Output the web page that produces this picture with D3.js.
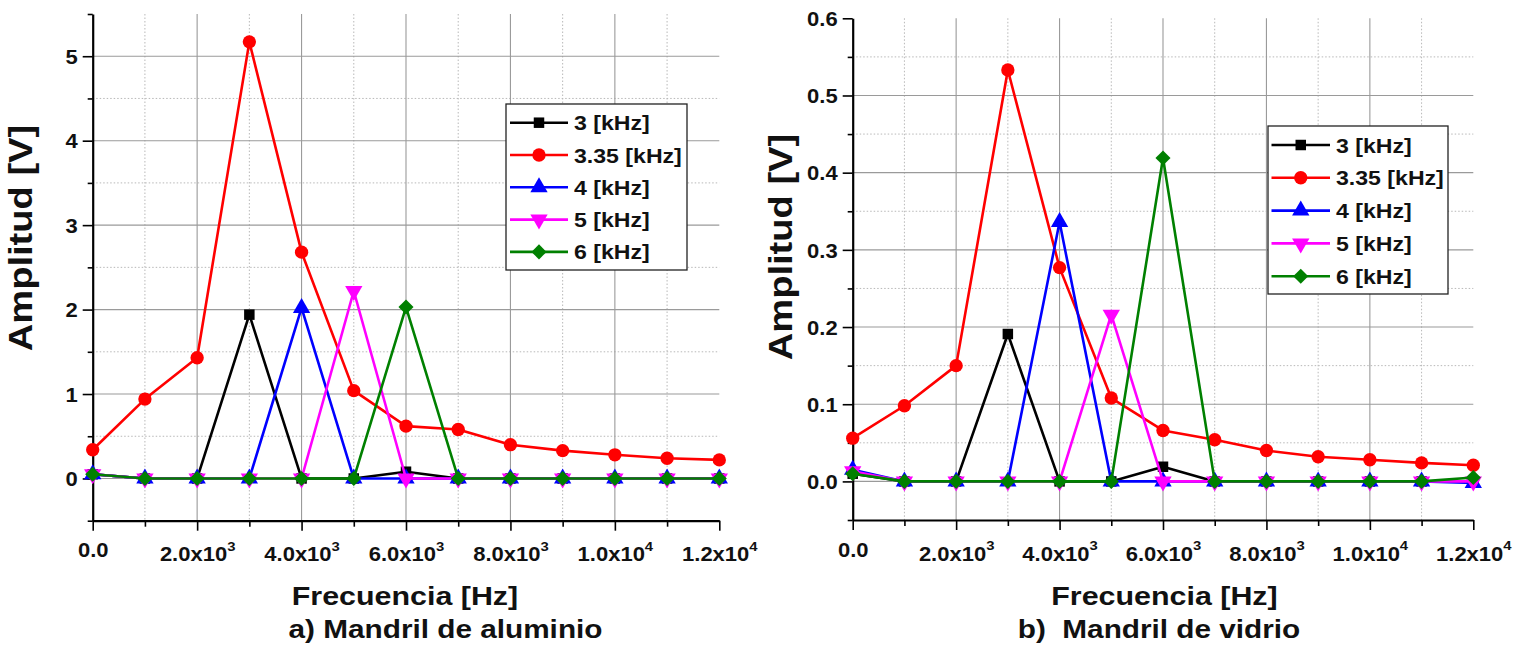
<!DOCTYPE html>
<html>
<head>
<meta charset="utf-8">
<script src="https://cdn.jsdelivr.net/npm/d3@7"></script>
<style>
  html, body { margin: 0; padding: 0; background: #fff; }
  text { font-family: "Liberation Sans", Arial, sans-serif; font-weight: bold; fill: #111; }
</style>
</head>
<body>
<svg id="chart" width="1527" height="645"></svg>
<script>
// ---------- DATA ----------
const freqs = [0, 1000, 2000, 3000, 4000, 5000, 6000, 7000, 8000, 9000, 10000, 11000, 12000];
const seriesNames = ["3 [kHz]", "3.35 [kHz]", "4 [kHz]", "5 [kHz]", "6 [kHz]"];

// a) Mandril de aluminio
const al_3   = [0.05, 0, 0, 1.94, 0, 0, 0.08, 0, 0, 0, 0, 0, 0];
const al_335 = [0.34, 0.94, 1.43, 5.17, 2.68, 1.04, 0.62, 0.58, 0.40, 0.33, 0.28, 0.24, 0.22];
const al_4   = [0.05, 0, 0, 0, 2.02, 0, 0, 0, 0, 0, 0, 0, 0];
const al_5   = [0.05, 0, 0, 0, 0, 2.22, 0, 0, 0, 0, 0, 0, 0];
const al_6   = [0.05, 0, 0, 0, 0, 0, 2.03, 0, 0, 0, 0, 0, 0];

// b) Mandril de vidrio
const vi_3   = [0.010, 0, 0, 0.191, 0, 0, 0.019, 0, 0, 0, 0, 0, 0];
const vi_335 = [0.056, 0.098, 0.150, 0.533, 0.277, 0.108, 0.066, 0.054, 0.040, 0.032, 0.028, 0.024, 0.021];
const vi_4   = [0.015, 0, 0, 0, 0.336, 0, 0, 0, 0, 0, 0, 0, -0.002];
const vi_5   = [0.013, 0, 0, 0, 0, 0.216, 0, 0, 0, 0, 0, 0, 0];
const vi_6   = [0.010, 0, 0, 0, 0, 0, 0.419, 0, 0, 0, 0, 0, 0.005];

const xMajorTicks = [0, 2000, 4000, 6000, 8000, 10000, 12000];
const xMinorTicks = [1000, 3000, 5000, 7000, 9000, 11000];
const alYMajor = [0, 1, 2, 3, 4, 5];
const alYMinor = [-0.5, 0.5, 1.5, 2.5, 3.5, 4.5, 5.5];
const viYMajor = [0.0, 0.1, 0.2, 0.3, 0.4, 0.5, 0.6];
const viYMinor = [-0.05, 0.05, 0.15, 0.25, 0.35, 0.45, 0.55];

const xTitle = "Frecuencia [Hz]";
const yTitle = "Amplitud [V]";

// ---------- STYLES ----------
const colors = ["#000000", "#ff0000", "#0000ff", "#ff00ff", "#008000"];
const symbols = [
  { type: d3.symbolSquare, size: 110, rot: 0 },
  { type: d3.symbolCircle, size: 140, rot: 0 },
  { type: d3.symbolTriangle, size: 130, rot: 0 },
  { type: d3.symbolTriangle, size: 130, rot: 180 },
  { type: d3.symbolDiamond2, size: 145, rot: 0 }
];

const svg = d3.select("#chart");
const SX = 1.1; // horizontal stretch of tick text in reference

function fmtX(d) {
  if (d === 0) return { m: "0.0", e: null };
  const e = Math.floor(Math.log10(d));
  return { m: (d / Math.pow(10, e)).toFixed(1) + "x10", e: String(e) };
}

function drawChart(cfg) {
  const x = d3.scaleLinear().domain([0, 12000]).range([cfg.x0, cfg.x1]);
  const y = d3.scaleLinear().domain(cfg.yDomain).range([cfg.yBot, cfg.yTop]);
  const g = svg.append("g");

  // grid
  const grid = g.append("g");
  grid.selectAll(".vmin").data(xMinorTicks).join("line")
    .attr("x1", d => x(d)).attr("x2", d => x(d))
    .attr("y1", cfg.yTop).attr("y2", cfg.yBot)
    .attr("stroke", "#b8b8b8").attr("stroke-width", 1).attr("stroke-dasharray", "1.5,2");
  grid.selectAll(".hmin").data(cfg.yMinor.filter(v => v > cfg.yDomain[0] && v < cfg.yDomain[1])).join("line")
    .attr("x1", cfg.x0).attr("x2", cfg.x1)
    .attr("y1", d => y(d)).attr("y2", d => y(d))
    .attr("stroke", "#b8b8b8").attr("stroke-width", 1).attr("stroke-dasharray", "1.5,2");
  grid.selectAll(".vmaj").data(xMajorTicks.filter(v => v > 0 && v < 12000)).join("line")
    .attr("x1", d => x(d)).attr("x2", d => x(d))
    .attr("y1", cfg.yTop).attr("y2", cfg.yBot)
    .attr("stroke", "#9a9a9a").attr("stroke-width", 1.1);
  grid.selectAll(".hmaj").data(cfg.yMajor.filter(v => v < cfg.yDomain[1])).join("line")
    .attr("x1", cfg.x0).attr("x2", cfg.x1)
    .attr("y1", d => y(d)).attr("y2", d => y(d))
    .attr("stroke", "#9a9a9a").attr("stroke-width", 1.1);

  // axes
  const xAxisG = g.append("g").attr("transform", `translate(0,${cfg.yBot})`);
  xAxisG.call(d3.axisBottom(x).tickValues(xMajorTicks).tickSize(10).tickSizeOuter(0).tickFormat(""));
  const xMinG = g.append("g").attr("transform", `translate(0,${cfg.yBot})`);
  xMinG.call(d3.axisBottom(x).tickValues(xMinorTicks).tickSize(6).tickSizeOuter(0).tickFormat(""));
  xMinG.select(".domain").remove();

  const yAxisG = g.append("g").attr("transform", `translate(${cfg.x0},0)`);
  yAxisG.call(d3.axisLeft(y).tickValues(cfg.yMajor).tickSize(10).tickSizeOuter(0).tickFormat(""));
  const yMinG = g.append("g").attr("transform", `translate(${cfg.x0},0)`);
  yMinG.call(d3.axisLeft(y).tickValues(cfg.yMinor).tickSize(5).tickSizeOuter(0).tickFormat(""));
  yMinG.select(".domain").remove();

  [xAxisG, xMinG, yAxisG, yMinG].forEach(a => {
    a.selectAll(".domain").attr("stroke", "#000").attr("stroke-width", 2.2);
    a.selectAll(".tick line").attr("stroke", "#000").attr("stroke-width", 1.6);
  });

  // x tick labels
  xAxisG.selectAll(".tick").each(function (d) {
    const f = fmtX(d);
    const t = d3.select(this).append("text")
      .attr("text-anchor", "middle")
      .attr("font-size", 20)
      .attr("transform", `translate(0,${f.e ? 40.5 : 36.7}) scale(${SX},1)`);
    t.append("tspan").text(f.m);
    if (f.e) t.append("tspan").attr("font-size", 13.5).attr("dy", -10.5).text(f.e);
  });

  // y tick labels
  yAxisG.selectAll(".tick").append("text")
    .attr("text-anchor", "end")
    .attr("font-size", 20)
    .attr("dy", "0.36em")
    .attr("transform", `translate(-15,0) scale(${SX},1)`)
    .text(d => cfg.yFmt(d));

  // titles
  g.append("text").attr("text-anchor", "middle").attr("font-size", 26)
    .attr("transform", `translate(${cfg.xTitleX},605) scale(1.17,1)`).text(xTitle);
  g.append("text").attr("text-anchor", "middle").attr("font-size", 25)
    .style("white-space", "pre")
    .attr("transform", `translate(${cfg.subX},638) scale(1.19,1)`).text(cfg.subtitle);
  g.append("text").attr("text-anchor", "middle").attr("font-size", 30)
    .attr("transform", `translate(${cfg.yTitleX},${cfg.yTitleY}) rotate(-90) scale(1.27,1.08)`).text(yTitle);

  // series
  const line = d3.line().x((d, i) => x(freqs[i])).y(d => y(d));
  const plot = g.append("g");
  cfg.series.forEach((vals, si) => {
    plot.append("path").datum(vals)
      .attr("d", line)
      .attr("fill", "none")
      .attr("stroke", colors[si])
      .attr("stroke-width", 2.6)
      .attr("stroke-linejoin", "round");
    const sym = d3.symbol().type(symbols[si].type).size(symbols[si].size);
    plot.selectAll(null).data(vals).join("path")
      .attr("d", sym)
      .attr("fill", colors[si])
      .attr("transform", (d, i) => `translate(${x(freqs[i])},${y(d)}) rotate(${symbols[si].rot})`);
  });

  // legend
  const L = cfg.legend;
  const lg = g.append("g");
  lg.append("rect").attr("x", L.x).attr("y", L.y).attr("width", L.w).attr("height", L.h)
    .attr("fill", "#fff").attr("stroke", "#222").attr("stroke-width", 1.3);
  seriesNames.forEach((name, si) => {
    const ry = L.row0 + si * L.step;
    lg.append("line").attr("x1", L.lx0).attr("x2", L.lx1).attr("y1", ry).attr("y2", ry)
      .attr("stroke", colors[si]).attr("stroke-width", 2.6);
    const sym = d3.symbol().type(symbols[si].type).size(symbols[si].size);
    lg.append("path").attr("d", sym).attr("fill", colors[si])
      .attr("transform", `translate(${(L.lx0 + L.lx1) / 2},${ry}) rotate(${symbols[si].rot})`);
    lg.append("text").attr("font-size", 21).attr("dy", "0.36em")
      .attr("transform", `translate(${L.tx},${ry}) scale(1.1,1)`).text(name);
  });
}

drawChart({
  x0: 92.7, x1: 719.3, yTop: 14, yBot: 520.7, yDomain: [-0.5, 5.5],
  yMajor: alYMajor, yMinor: alYMinor, yFmt: d => String(d),
  series: [al_3, al_335, al_4, al_5, al_6],
  subtitle: "a) Mandril de aluminio", xTitleX: 405, subX: 445.5,
  yTitleX: 32, yTitleY: 238,
  legend: { x: 506, y: 104, w: 181, h: 166, row0: 122.7, step: 32.3, lx0: 510, lx1: 568, tx: 574 }
});

drawChart({
  x0: 852.7, x1: 1473.3, yTop: 18.3, yBot: 520, yDomain: [-0.05, 0.6],
  yMajor: viYMajor, yMinor: viYMinor, yFmt: d3.format(".1f"),
  series: [vi_3, vi_335, vi_4, vi_5, vi_6],
  subtitle: "b)  Mandril de vidrio", xTitleX: 1164.5, subX: 1159,
  yTitleX: 792, yTitleY: 247,
  legend: { x: 1268, y: 126, w: 180, h: 168, row0: 145, step: 32.8, lx0: 1271.5, lx1: 1330, tx: 1336 }
});
</script>
</body>
</html>
